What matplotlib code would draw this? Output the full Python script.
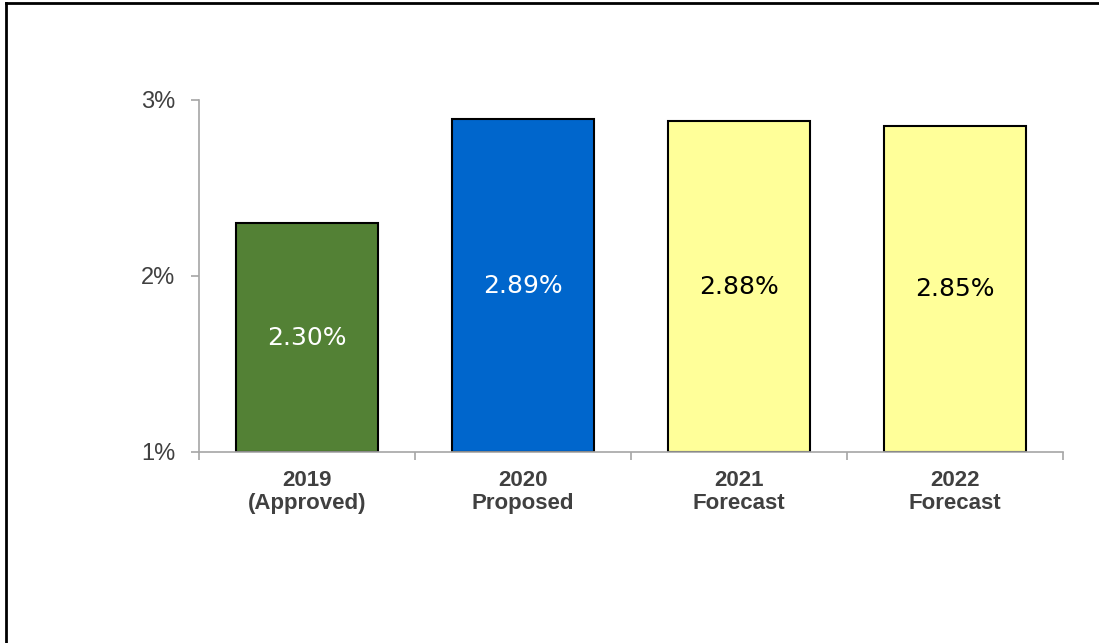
import matplotlib.pyplot as plt
from matplotlib.lines import Line2D

categories = ["2019\n(Approved)", "2020\nProposed", "2021\nForecast", "2022\nForecast"]
values = [2.30, 2.89, 2.88, 2.85]
colors = ["#538135", "#0066CC", "#FFFF99", "#FFFF99"]
label_colors = ["white", "white", "black", "black"]

fig = plt.figure(figsize=(10.99, 6.43), dpi=100)
ax = fig.add_axes([199 / 1099, 1 - 452 / 643, (1063 - 199) / 1099, (452 - 100) / 643])

x = range(len(categories))
ax.bar(x, [v - 1 for v in values], bottom=1, width=0.66, color=colors,
       edgecolor="black", linewidth=1.5, zorder=2)

for i, v in enumerate(values):
    ax.text(i, (1 + v) / 2, f"{v:.2f}%", ha="center", va="center",
            fontsize=18, color=label_colors[i], family="DejaVu Sans")

ax.set_xlim(-0.5, 3.5)
ax.set_ylim(1, 3)
ax.set_yticks([1, 2, 3])
ax.set_yticklabels(["1%", "2%", "3%"])
ax.set_xticks(list(x))
ax.set_xticklabels(categories, fontweight="bold", linespacing=1.1)
ax.set_xticks([-0.5, 0.5, 1.5, 2.5, 3.5], minor=True)

ax.tick_params(axis="x", which="major", length=0, pad=13, labelsize=16,
               labelcolor="#404040")
ax.tick_params(axis="x", which="minor", length=6, color="#a6a6a6", width=1.2)
ax.tick_params(axis="y", length=6, color="#a6a6a6", width=1.2, labelsize=17,
               labelcolor="#404040", pad=11)
for lbl in ax.get_xticklabels() + ax.get_yticklabels():
    lbl.set_family("Liberation Sans")

for s in ["top", "right"]:
    ax.spines[s].set_visible(False)
for s in ["left", "bottom"]:
    ax.spines[s].set_color("#a6a6a6")
    ax.spines[s].set_linewidth(1.2)

# outer border (top and left only visible)
fig.add_artist(Line2D([6 / 1099, 6 / 1099], [0, 1 - 3 / 643], color="black", lw=2))
fig.add_artist(Line2D([6 / 1099, 1], [1 - 3 / 643, 1 - 3 / 643], color="black", lw=2))

fig.savefig("out.png", dpi=100)
